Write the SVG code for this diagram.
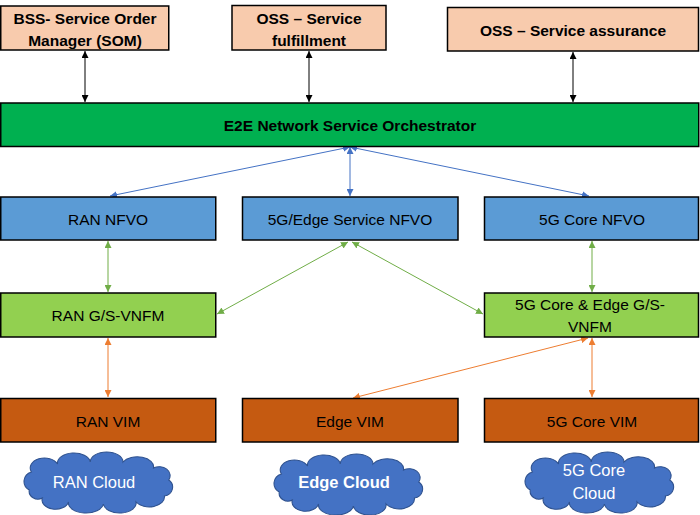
<svg xmlns="http://www.w3.org/2000/svg" xmlns:xlink="http://www.w3.org/1999/xlink" width="700" height="515" viewBox="0 0 700 515">
<defs>
<style>
.box{stroke:#000;stroke-width:1.5}
.peach{fill:#F8CBAD}
.orch{fill:#00B050}
.blue{fill:#5B9BD5}
.lgreen{fill:#92D050}
.orange{fill:#C55A11}
text{font-family:"Liberation Sans",Arial,sans-serif;font-size:15.5px;text-anchor:middle;fill:#000}
.b{font-weight:bold}
.w{fill:#fff;font-size:16.5px}
.cloud{fill:#4472C4;stroke:#2F528F;stroke-width:1}
.c-k{stroke:#000;stroke-width:1;fill:none}
.c-b{stroke:#4472C4;stroke-width:1;fill:none}
.c-g{stroke:#70AD47;stroke-width:1;fill:none}
.c-o{stroke:#ED7D31;stroke-width:1;fill:none}
</style>
<marker id="ak" viewBox="0 0 10 10" refX="10" refY="5" markerWidth="7" markerHeight="7" markerUnits="userSpaceOnUse" orient="auto-start-reverse"><path d="M0,0L10,5L0,10Z" fill="#000"/></marker>
<marker id="ab" viewBox="0 0 10 10" refX="10" refY="5" markerWidth="7" markerHeight="7" markerUnits="userSpaceOnUse" orient="auto-start-reverse"><path d="M0,0L10,5L0,10Z" fill="#4472C4"/></marker>
<marker id="ag" viewBox="0 0 10 10" refX="10" refY="5" markerWidth="7" markerHeight="7" markerUnits="userSpaceOnUse" orient="auto-start-reverse"><path d="M0,0L10,5L0,10Z" fill="#70AD47"/></marker>
<marker id="ao" viewBox="0 0 10 10" refX="10" refY="5" markerWidth="7" markerHeight="7" markerUnits="userSpaceOnUse" orient="auto-start-reverse"><path d="M0,0L10,5L0,10Z" fill="#ED7D31"/></marker>
<path id="cloudshape" d="M-64,8 A10,10 0 0 1 -62,-10 A13,10 0 0 1 -38,-18 A15,10 0 0 1 -8,-20 A15,10 0 0 1 22,-20 A15,10 0 0 1 50,-14 A10,9 0 0 1 64,-2 A9,9 0 0 1 60,14 A14,10 0 0 1 34,20 A15,10 0 0 1 4,22 A16,10 0 0 1 -28,20 A12,9 0 0 1 -52,16 A8,8 0 0 1 -64,8 Z"/>
</defs>
<rect width="700" height="515" fill="#fff"/>

<g id="connectors">
<line class="c-k" x1="85" y1="51" x2="85" y2="102" marker-start="url(#ak)" marker-end="url(#ak)"/>
<line class="c-k" x1="309" y1="51" x2="309" y2="102" marker-start="url(#ak)" marker-end="url(#ak)"/>
<line class="c-k" x1="573" y1="52" x2="573" y2="102" marker-start="url(#ak)" marker-end="url(#ak)"/>
<line class="c-b" x1="350" y1="147" x2="110" y2="196" marker-start="url(#ab)" marker-end="url(#ab)"/>
<line class="c-b" x1="350" y1="147" x2="350" y2="196" marker-start="url(#ab)" marker-end="url(#ab)"/>
<line class="c-b" x1="350" y1="147" x2="589" y2="196" marker-start="url(#ab)" marker-end="url(#ab)"/>
<line class="c-g" x1="108" y1="241" x2="108" y2="292" marker-start="url(#ag)" marker-end="url(#ag)"/>
<line class="c-g" x1="348" y1="242" x2="217" y2="314" marker-start="url(#ag)" marker-end="url(#ag)"/>
<line class="c-g" x1="352" y1="242" x2="483" y2="314" marker-start="url(#ag)" marker-end="url(#ag)"/>
<line class="c-g" x1="592" y1="241" x2="592" y2="292" marker-start="url(#ag)" marker-end="url(#ag)"/>
<line class="c-o" x1="108" y1="338" x2="108" y2="397" marker-start="url(#ao)" marker-end="url(#ao)"/>
<line class="c-o" x1="588" y1="338" x2="353" y2="398" marker-start="url(#ao)" marker-end="url(#ao)"/>
<line class="c-o" x1="592" y1="338" x2="592" y2="397" marker-start="url(#ao)" marker-end="url(#ao)"/>
</g>

<g id="bss">
<rect class="box peach" x="0.75" y="6" width="168" height="44"/>
<text class="b" x="85" y="23.5">BSS- Service Order</text>
<text class="b" x="85" y="46">Manager (SOM)</text>
</g>
<g id="oss-fulfillment">
<rect class="box peach" x="232" y="5.5" width="154" height="44.5"/>
<text class="b" x="309" y="23.5">OSS – Service</text>
<text class="b" x="309" y="45.5">fulfillment</text>
</g>
<g id="oss-assurance">
<rect class="box peach" x="447.5" y="7.5" width="251" height="43.5"/>
<text class="b" x="573" y="35.5">OSS – Service assurance</text>
</g>
<g id="e2e">
<rect class="box orch" x="0.75" y="103" width="698" height="43.5"/>
<text class="b" x="350" y="131">E2E Network Service Orchestrator</text>
</g>

<g id="ran-nfvo">
<rect class="box blue" x="0.75" y="197" width="215" height="43"/>
<text x="108" y="224.5">RAN NFVO</text>
</g>
<g id="edge-nfvo">
<rect class="box blue" x="242.5" y="197" width="215.5" height="43"/>
<text x="350" y="224.5">5G/Edge Service NFVO</text>
</g>
<g id="core-nfvo">
<rect class="box blue" x="484.5" y="197" width="214" height="43"/>
<text x="592" y="224.5">5G Core NFVO</text>
</g>

<g id="ran-vnfm">
<rect class="box lgreen" x="0.75" y="293" width="215" height="44"/>
<text x="108" y="320.5">RAN G/S-VNFM</text>
</g>
<g id="core-vnfm">
<rect class="box lgreen" x="484.5" y="293" width="214" height="44"/>
<text x="590" y="309.5">5G Core &amp; Edge G/S-</text>
<text x="590" y="331.5">VNFM</text>
</g>

<g id="ran-vim">
<rect class="box orange" x="0.75" y="398.5" width="215" height="43.5"/>
<text x="108" y="426.5">RAN VIM</text>
</g>
<g id="edge-vim">
<rect class="box orange" x="242.5" y="398.5" width="215.5" height="43.5"/>
<text x="350" y="426.5">Edge VIM</text>
</g>
<g id="core-vim">
<rect class="box orange" x="484.5" y="398.5" width="214" height="43.5"/>
<text x="592" y="426.5">5G Core VIM</text>
</g>

<g id="ran-cloud">
<use xlink:href="#cloudshape" class="cloud" transform="translate(99,482) scale(1.09,1)"/>
<text class="w" x="94" y="488">RAN Cloud</text>
</g>
<g id="edge-cloud">
<use xlink:href="#cloudshape" class="cloud" transform="translate(349,484) scale(1.09,1)"/>
<text class="w b" x="344" y="488">Edge Cloud</text>
</g>
<g id="core-cloud">
<use xlink:href="#cloudshape" class="cloud" transform="translate(600,482) scale(1.09,1)"/>
<text class="w" x="594" y="476">5G Core</text>
<text class="w" x="594" y="498.5">Cloud</text>
</g>
</svg>
